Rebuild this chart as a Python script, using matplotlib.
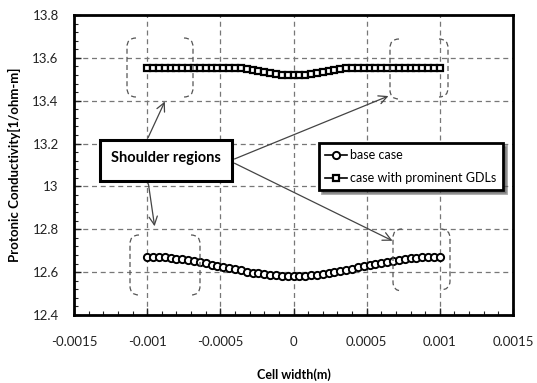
import matplotlib
matplotlib.use("Agg")
import matplotlib.pyplot as plt
from matplotlib.path import Path
from matplotlib.patches import PathPatch, FancyBboxPatch
from matplotlib.ticker import MultipleLocator

plt.rcParams['font.family'] = ['Lato', 'DejaVu Sans']

# ---- data ----
cell_width = [-0.001 + 0.00004 * i for i in range(51)]
base_case = [12.672, 12.672, 12.671, 12.669, 12.666, 12.663, 12.660, 12.656, 12.651, 12.646,
             12.641, 12.635, 12.630, 12.624, 12.619, 12.613, 12.608, 12.603, 12.598, 12.594,
             12.591, 12.588, 12.585, 12.583, 12.582, 12.582, 12.583, 12.584, 12.586, 12.589,
             12.593, 12.597, 12.601, 12.606, 12.611, 12.617, 12.622, 12.628, 12.633, 12.639,
             12.644, 12.649, 12.654, 12.658, 12.662, 12.665, 12.668, 12.670, 12.672, 12.673,
             12.673]
prominent_gdl = [13.555, 13.555, 13.555, 13.555, 13.555, 13.555, 13.555, 13.555, 13.555, 13.555,
                 13.555, 13.555, 13.555, 13.555, 13.555, 13.555, 13.553, 13.549, 13.544, 13.538,
                 13.533, 13.528, 13.524, 13.521, 13.519, 13.518, 13.519, 13.521, 13.524, 13.528,
                 13.533, 13.538, 13.544, 13.549, 13.553, 13.555, 13.555, 13.555, 13.555, 13.555,
                 13.555, 13.555, 13.555, 13.555, 13.555, 13.555, 13.555, 13.555, 13.555, 13.555,
                 13.555]
x_ticks = [-0.0015, -0.001, -0.0005, 0, 0.0005, 0.001, 0.0015]
x_ticklabels = ["-0.0015", "-0.001", "-0.0005", "0", "0.0005", "0.001", "0.0015"]
y_ticks = [12.4, 12.6, 12.8, 13.0, 13.2, 13.4, 13.6, 13.8]
y_ticklabels = ["12.4", "12.6", "12.8", "13", "13.2", "13.4", "13.6", "13.8"]
series_names = ["base case", "case with prominent GDLs"]
callout_text = "Shoulder regions"

W, H = 537, 383
fig = plt.figure(figsize=(W / 100, H / 100), dpi=100)
ax = fig.add_axes([74 / W, 1 - 315 / H, (513 - 74) / W, (315 - 15) / H])

ax.plot(cell_width, base_case, color='black', lw=1.2, marker='o', ms=5.2,
        mfc='white', mec='black', mew=1.4, label=series_names[0], zorder=3)
ax.plot(cell_width, prominent_gdl, color='black', lw=1.2, marker='s', ms=4.8,
        mfc='white', mec='black', mew=1.6, label=series_names[1], zorder=3)

ax.set_xlim(-0.0015, 0.0015)
ax.set_ylim(12.4, 13.8)
ax.set_xticks(x_ticks)
ax.set_xticklabels(x_ticklabels)
ax.set_yticks(y_ticks)
ax.set_yticklabels(y_ticklabels)
ax.xaxis.set_minor_locator(MultipleLocator(0.0001))
ax.yaxis.set_minor_locator(MultipleLocator(0.04))
ax.tick_params(which='both', direction='in', top=False, right=False, labelsize=9.5,
               colors='#222222')
ax.tick_params(which='major', length=5, width=1.0)
ax.tick_params(which='minor', length=3, width=0.8)
ax.tick_params(axis='x', pad=15)
ax.tick_params(axis='y', pad=11)
ax.grid(True, which='major', linestyle=(0, (4, 3)), color='#777777', lw=0.9)
for s in ax.spines.values():
    s.set_linewidth(2.0)
    s.set_color('black')

ax.set_xlabel("Cell width(m)", fontsize=9, fontweight='bold', labelpad=15)
ax.set_ylabel("Protonic Conductivity[1/ohm-m]", fontsize=9.5, fontweight='bold', labelpad=8)

leg = ax.legend(loc='upper left', bbox_to_anchor=((319 - 74) / 439, 1 - (143 - 15) / 300),
                fontsize=9, frameon=True, fancybox=False, shadow=True,
                handlelength=1.7, borderpad=0.5, labelspacing=0.85, handletextpad=0.3,
                borderaxespad=0)
leg.get_frame().set_edgecolor('black')
leg.get_frame().set_linewidth(2.0)


def fx(px):
    return px / W


def fy(py):
    return 1 - py / H


# callout box
bx0, by0, bx1, by1 = 100, 140, 232, 181
box = FancyBboxPatch((fx(bx0), fy(by1)), fx(bx1) - fx(bx0), fy(by0) - fy(by1),
                     boxstyle='square,pad=0', transform=fig.transFigure,
                     facecolor='white', edgecolor='black', lw=2.2, zorder=10)
fig.patches.append(box)
fig.text(fx(166), fy(158), callout_text, ha='center', va='center', fontsize=10.5,
         fontweight='bold', zorder=11)

# arrows
arrows = [((147, 140), (166, 99)),
          ((232, 160), (391, 95)),
          ((232, 162), (395, 242)),
          ((148, 181), (155, 229))]
for (sx, sy), (ex, ey) in arrows:
    fig.add_artist(matplotlib.patches.FancyArrowPatch(
        (fx(sx), fy(sy)), (fx(ex), fy(ey)), transform=fig.transFigure,
        arrowstyle='->,head_length=6,head_width=3', color='#444444', lw=0.9,
        mutation_scale=1, zorder=9))


def bracket(x_out, x_in, ytop, ybot):
    # x_in: the end tips, x_out: the vertical part
    r = 9
    verts = [(x_in, ytop), (x_out, ytop), (x_out, ytop + r), (x_out, ytop + r + 2),
             (x_out, ybot - r - 2), (x_out, ybot - r), (x_out, ybot), (x_in, ybot)]
    codes = [Path.MOVETO, Path.CURVE3, Path.CURVE3, Path.LINETO,
             Path.LINETO, Path.LINETO, Path.CURVE3, Path.CURVE3]
    verts = [(fx(a), fy(b)) for a, b in verts]
    p = PathPatch(Path(verts, codes), transform=fig.transFigure, fill=False,
                  edgecolor='#555555', lw=0.9, linestyle=(0, (4, 2.5)), zorder=8)
    fig.patches.append(p)


bracket(127, 136, 38, 97)
bracket(193, 184, 38, 97)
bracket(390, 399, 39, 99)
bracket(448, 439, 39, 97)
bracket(130, 139, 235, 295)
bracket(200, 191, 235, 295)
bracket(393, 402, 229, 291)
bracket(450, 440, 229, 290)

fig.savefig("out.png", dpi=100)
